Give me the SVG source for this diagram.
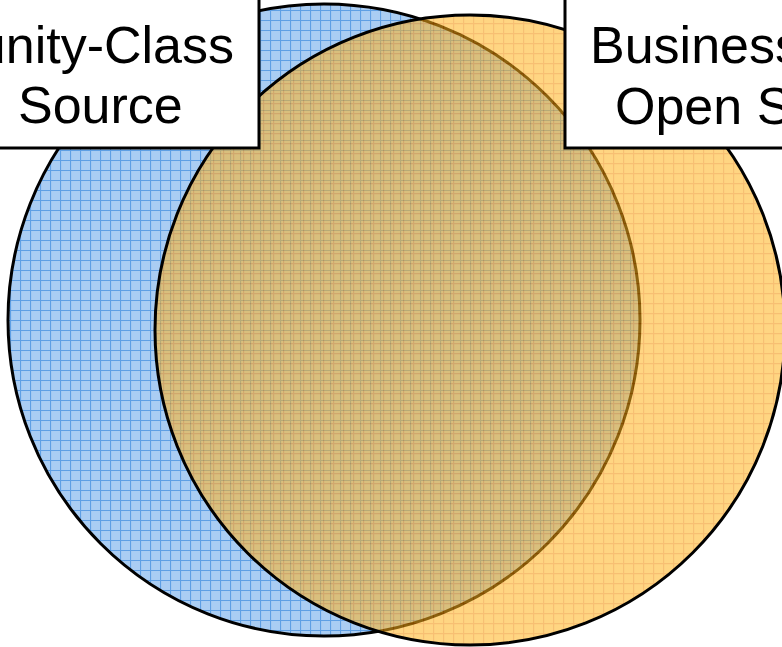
<svg xmlns="http://www.w3.org/2000/svg" width="782" height="647" viewBox="0 0 782 647">
<style>
.lbl{fill:#fff;stroke:#000;stroke-width:3}
.t{font-family:"Liberation Sans",Arial,sans-serif;font-size:52px;fill:#000}
.edge{fill:none;stroke:#000;stroke-width:3}
</style>
<defs>
<pattern id="gb" width="10" height="10" patternUnits="userSpaceOnUse">
<rect width="10" height="10" fill="#aacdf3"/>
<path d="M0 0.5H10M0.5 0V10" stroke="#5f9fe4" stroke-width="1.2"/>
</pattern>
<pattern id="go" width="10" height="10" patternUnits="userSpaceOnUse" x="3" y="3">
<rect width="10" height="10" fill="#ffb31c"/>
<path d="M0 0.5H10M0.5 0V10" stroke="#f08a00" stroke-width="1.4"/>
</pattern>
</defs>
<rect width="782" height="647" fill="#fff"/>
<g id="community">
<circle cx="324" cy="320" r="316" fill="url(#gb)" class="edge" style="fill:url(#gb)"/>
</g>
<g id="business">
<circle cx="470" cy="330" r="315" fill="url(#go)" opacity="0.55"/>
<circle cx="470" cy="330" r="315" class="edge"/>
</g>
<g id="label-community">
<rect x="-60" y="-10" width="319" height="158" class="lbl"/>
<text class="t" x="234" y="63" text-anchor="end">Community-Class</text>
<text class="t" x="18" y="123">Source</text>
</g>
<g id="label-business">
<rect x="565" y="-10" width="300" height="158" class="lbl"/>
<text class="t" x="590" y="63">Business-Class</text>
<text class="t" x="615" y="124">Open Source</text>
</g>
<g id="connectors"></g>
</svg>
